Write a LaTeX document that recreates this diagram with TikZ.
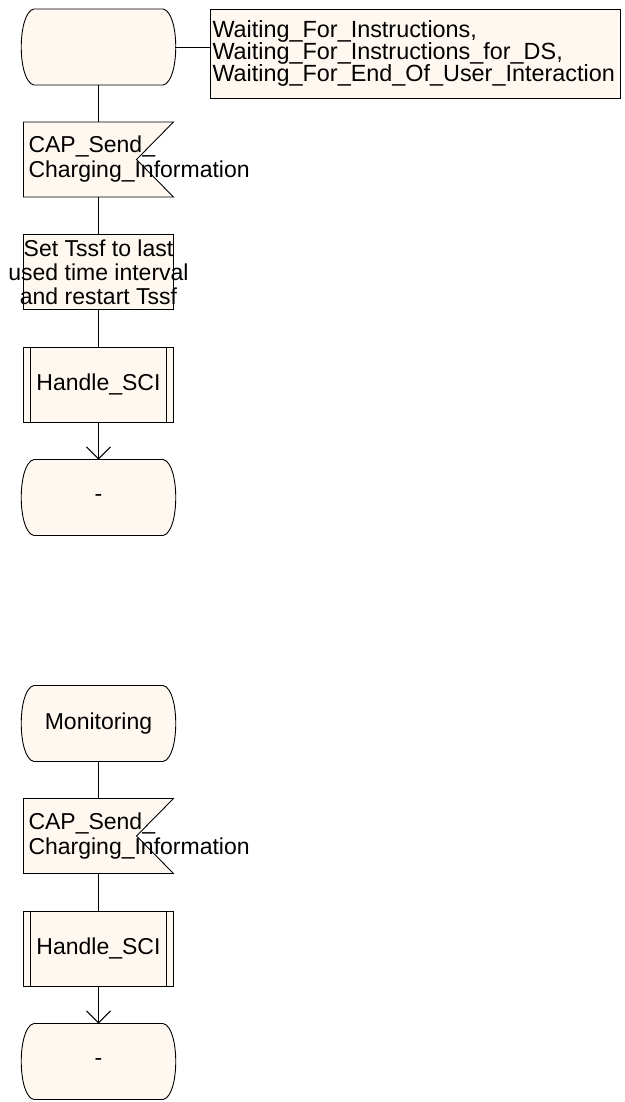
\documentclass[tikz,border=0pt]{standalone}
\usepackage{fontspec}
\setmainfont{Liberation Sans}
\usetikzlibrary{arrows.meta, positioning, backgrounds}
\definecolor{sdlfill}{RGB}{255,248,240}

% state outline: straight top and bottom, bulging sides
\newcommand{\sdlstate}[1]{%
  \draw[sdlline, fill=sdlfill] ([xshift=12pt]#1.north west) -- ([xshift=-12pt]#1.north east)
    .. controls +(17pt,-3pt) and +(17pt,3pt) .. ([xshift=-12pt]#1.south east)
    -- ([xshift=12pt]#1.south west)
    .. controls +(-17pt,3pt) and +(-17pt,-3pt) .. ([xshift=12pt]#1.north west) -- cycle;}
% input outline: box with a notch on the right
\newcommand{\sdlinput}[1]{%
  \draw[sdlline, fill=sdlfill] (#1.north west) -- (#1.north east) -- ([xshift=-37pt]#1.east)
    -- (#1.south east) -- (#1.south west) -- cycle;}

\begin{document}
\begin{tikzpicture}[
  sdlline/.style={draw=black, line width=0.9pt},
  sdltext/.style={font=\fontsize{23}{24}\selectfont},
  statebox/.style={sdltext, rectangle, minimum width=153pt, minimum height=76pt,
    inner sep=0pt, outer sep=0pt},
  inputbox/.style={rectangle, minimum width=150pt, minimum height=75pt, text width=140pt,
    inner xsep=5pt, inner ysep=0pt, outer sep=0pt, align=left,
    font=\fontsize{23}{25}\selectfont},
  taskbox/.style={sdltext, rectangle, sdlline, fill=sdlfill, minimum width=150pt,
    minimum height=75pt, inner sep=0pt, outer sep=0pt, align=center},
  procbox/.style={taskbox, path picture={
    \draw[sdlline] ([xshift=7pt]path picture bounding box.north west) -- ([xshift=7pt]path picture bounding box.south west)
      ([xshift=-7pt]path picture bounding box.north east) -- ([xshift=-7pt]path picture bounding box.south east);}},
  notebox/.style={rectangle, sdlline, fill=sdlfill, minimum width=410pt, minimum height=89pt,
    text width=405pt, inner xsep=2.5pt, inner ysep=0pt, outer sep=0pt, align=left,
    font=\fontsize{23.4}{22}\selectfont},
  flow/.style={sdlline},
  flowarrow/.style={sdlline, -{Straight Barb[length=12pt, width=24pt]}}
]
  \useasboundingbox (0,0) rectangle (624pt,-1102pt);

  % first branch
  \node[statebox] (state1) at (98.5pt,-47pt) {};
  \node[notebox, anchor=north west] (note) at ([xshift=35pt]state1.north east)
    {Waiting\_For\_Instructions,\\Waiting\_For\_Instructions\_for\_DS,\\Waiting\_For\_End\_Of\_User\_Interaction};
  \node[inputbox, below=37pt of state1] (send1) {\mbox{CAP\_Send\_}\\\mbox{Charging\_Information}};
  \node[taskbox, below=37.5pt of send1] (tssf)
    {\makebox[0pt]{Set Tssf to last}\\\makebox[0pt]{used time interval}\\\makebox[0pt]{and restart Tssf}};
  \node[procbox, below=37.5pt of tssf] (proc1) {Handle\_SCI};
  \node[statebox, below=37.5pt of proc1] (end1) {-};

  % second branch
  \node[statebox, below=150pt of end1] (monitor) {Monitoring};
  \node[inputbox, below=37pt of monitor] (send2) {\mbox{CAP\_Send\_}\\\mbox{Charging\_Information}};
  \node[procbox, below=37.5pt of send2] (proc2) {Handle\_SCI};
  \node[statebox, below=37.5pt of proc2] (end2) {-};

  % outlines behind the texts
  \begin{scope}[on background layer]
    \foreach \s in {state1, end1, monitor, end2} {\sdlstate{\s}}
    \foreach \i in {send1, send2} {\sdlinput{\i}}
  \end{scope}

  % connectors
  \draw[flow] (state1.east) -- (state1.east -| note.west);
  \draw[flow] (state1) -- (send1);
  \draw[flow] (send1) -- (tssf);
  \draw[flow] (tssf) -- (proc1);
  \draw[flowarrow] (proc1) -- (end1);
  \draw[flow] (monitor) -- (send2);
  \draw[flow] (send2) -- (proc2);
  \draw[flowarrow] (proc2) -- (end2);
\end{tikzpicture}
\end{document}
